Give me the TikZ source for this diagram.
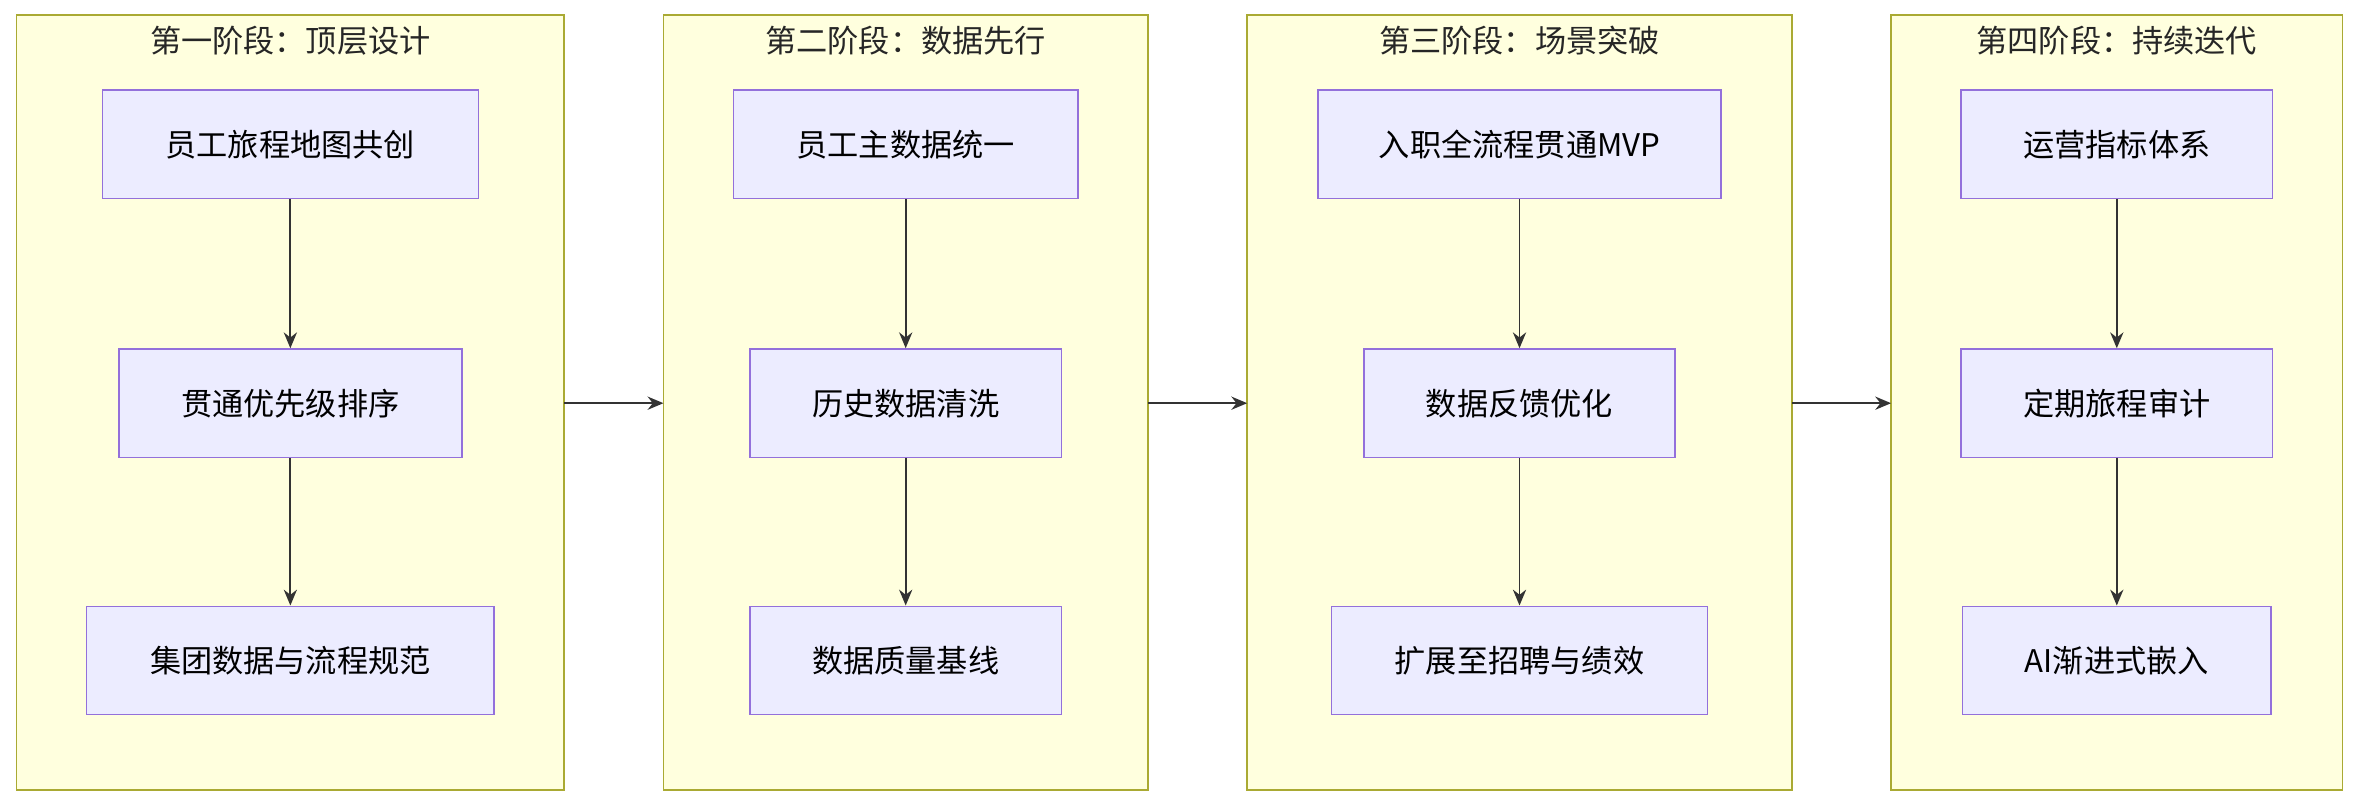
\documentclass[tikz,border=0pt]{standalone}
\usepackage{fontspec}
\setmainfont{Noto Sans CJK SC}
\usetikzlibrary{arrows.meta}
\definecolor{cfill}{HTML}{FFFFDE}\definecolor{cline}{HTML}{AAAA33}
\definecolor{nfill}{HTML}{ECECFF}\definecolor{nline}{HTML}{9370DB}
\definecolor{ar}{HTML}{333333}
\begin{document}
\begin{tikzpicture}[x=0.02cm,y=-0.02cm,
 clus/.style={draw=cline,fill=cfill,line width=0.6pt},
 box/.style={draw=nline,fill=nfill,line width=0.6pt,minimum height=1.44cm,font=\fontsize{11.8}{14}\selectfont,inner sep=0pt},
 ttl/.style={font=\fontsize{11.8}{14}\selectfont,text=black!85},
 arr/.style={draw=ar,line width=0.7pt,-{Stealth[length=6pt,width=5pt]}}]
\useasboundingbox (0,0) rectangle (1568,536);
\draw[clus] (11,10) rectangle (375,525);
\draw[clus] (441,10) rectangle (763,525);
\draw[clus] (829,10) rectangle (1191,525);
\draw[clus] (1257,10) rectangle (1557,525);
\node[ttl] (t1) at (193,27) {第一阶段：顶层设计};
\node[ttl] (t2) at (602,27) {第二阶段：数据先行};
\node[ttl] (t3) at (1010,27) {第三阶段：场景突破};
\node[ttl] (t4) at (1407,27) {第四阶段：持续迭代};
\coordinate (c1) at (375,268);\coordinate (c2l) at (441,268);
\coordinate (c2) at (763,268);\coordinate (c3l) at (829,268);
\coordinate (c3) at (1191,268);\coordinate (c4l) at (1257,268);
\node[box,minimum width=5.0cm] (a1) at (193,96) {员工旅程地图共创};
\node[box,minimum width=4.56cm] (a2) at (193,268) {贯通优先级排序};
\node[box,minimum width=5.42cm] (a3) at (193,439) {集团数据与流程规范};
\node[box,minimum width=4.58cm] (b1) at (602,96) {员工主数据统一};
\node[box,minimum width=4.14cm] (b2) at (602,268) {历史数据清洗};
\node[box,minimum width=4.14cm] (b3) at (602,439) {数据质量基线};
\node[box,minimum width=5.36cm] (d1) at (1010,96) {入职全流程贯通MVP};
\node[box,minimum width=4.14cm] (d2) at (1010,268) {数据反馈优化};
\node[box,minimum width=5.0cm] (d3) at (1010,439) {扩展至招聘与绩效};
\node[box,minimum width=4.14cm] (e1) at (1407,96) {运营指标体系};
\node[box,minimum width=4.14cm] (e2) at (1407,268) {定期旅程审计};
\node[box,minimum width=4.10cm] (e3) at (1407,439) {AI渐进式嵌入};
\foreach \p/\q in {a1/a2,a2/a3,b1/b2,b2/b3,d1/d2,d2/d3,e1/e2,e2/e3}
 \draw[arr] (\p) -- (\q);
\draw[arr] (c1) -- (c2l);
\draw[arr] (c2) -- (c3l);
\draw[arr] (c3) -- (c4l);
\end{tikzpicture}
\end{document}
